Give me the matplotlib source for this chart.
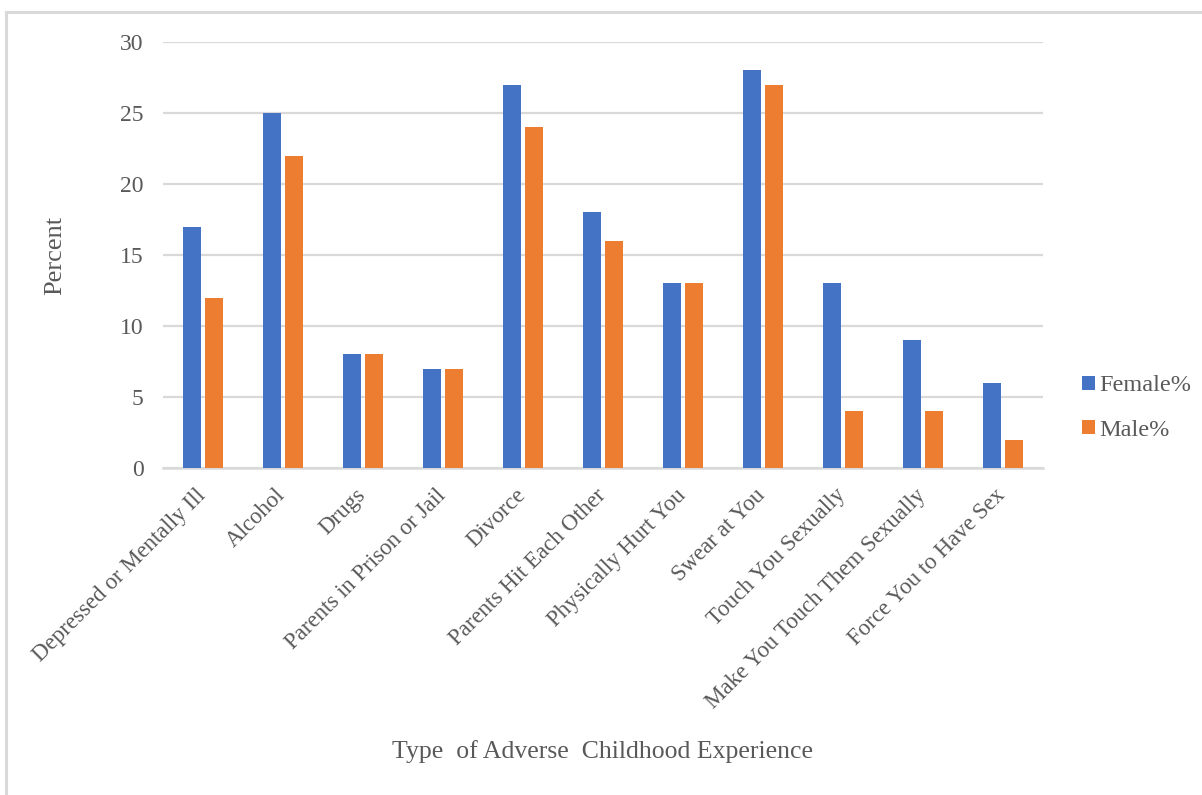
import matplotlib.pyplot as plt
from matplotlib.lines import Line2D
import matplotlib.transforms as mtransforms
import numpy as np

categories = ['Depressed or Mentally Ill', 'Alcohol', 'Drugs',
              'Parents in Prison or Jail', 'Divorce', 'Parents Hit Each Other',
              'Physically Hurt You', 'Swear at You', 'Touch You Sexually',
              'Make You Touch Them Sexually', 'Force You to Have Sex']
female = [17, 25, 8, 7, 27, 18, 13, 28, 13, 9, 6]
male = [12, 22, 8, 7, 24, 16, 13, 27, 4, 4, 2]

plt.rcParams['font.family'] = ['Liberation Serif', 'DejaVu Serif']
text_color = '#595959'
grid_color = '#D9D9D9'

W, H = 1202, 795
fig = plt.figure(figsize=(W / 100, H / 100), dpi=100)
ax = fig.add_axes([163 / W, 1 - 468 / H, 880 / W, 426 / H])

x = np.arange(len(categories))
bw = 0.225
gap = 0.06
ax.bar(x - (bw + gap) / 2, female, bw, color='#4472C4', label='Female%', zorder=3)
ax.bar(x + (bw + gap) / 2, male, bw, color='#ED7D31', label='Male%', zorder=3)

ax.set_xlim(-0.5, len(categories) - 0.5)
ax.set_ylim(0, 30)
ax.set_yticks(range(0, 31, 5))
ax.yaxis.grid(True, color=grid_color, linewidth=1.6, zorder=0)
ax.set_axisbelow(True)
for side in ['top', 'right', 'left']:
    ax.spines[side].set_visible(False)
ax.spines['bottom'].set_color(grid_color)
ax.spines['bottom'].set_linewidth(1.8)

ax.set_xticks(x)
ax.set_xticklabels(categories, rotation=45, ha='right', rotation_mode='anchor')
ax.tick_params(axis='both', length=0, colors=text_color)
ax.tick_params(axis='x', pad=12, labelsize=16.5)
ax.tick_params(axis='y', pad=14, labelsize=17)

# nudge the slanted category labels a little to the left
shift = mtransforms.ScaledTranslation(-8 / 100, 0, fig.dpi_scale_trans)
for lbl in ax.get_xticklabels():
    lbl.set_transform(lbl.get_transform() + shift)

fig.text(55 / W, 1 - 255 / H, 'Percent', rotation=90, ha='center', va='center',
         fontsize=19, color=text_color)
fig.text(603 / W, 1 - 752 / H, 'Type  of Adverse  Childhood Experience',
         ha='center', va='center', fontsize=18.5, color=text_color)

leg = fig.legend(loc='center left', bbox_to_anchor=(1060 / W, 1 - 408 / H),
                 frameon=False, fontsize=17.5, handlelength=0.55, handleheight=0.55,
                 handletextpad=0.15, labelspacing=0.95, labelcolor=text_color)

# outer chart border
fig.add_artist(Line2D([6 / W, 6 / W], [0, 1 - 12 / H], color=grid_color, linewidth=2.2))
fig.add_artist(Line2D([6 / W, 1], [1 - 12 / H, 1 - 12 / H], color=grid_color, linewidth=2.2))

fig.savefig('out.png', dpi=100)
